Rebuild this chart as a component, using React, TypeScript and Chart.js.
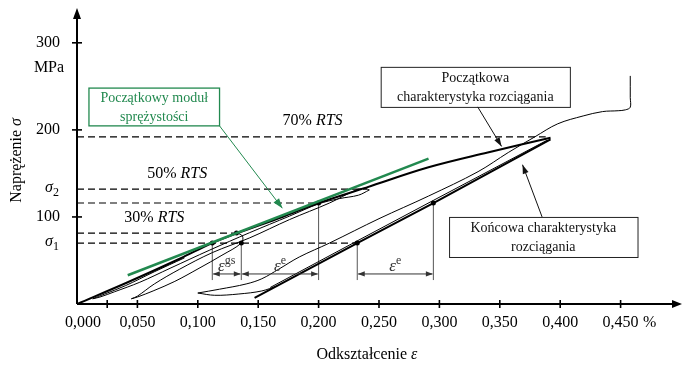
import React, { useEffect, useRef } from "react";
import { Chart, registerables } from "chart.js";

Chart.register(...registerables);

type P = [number, number];

// Axis ranges (strain in %, stress in MPa)
const strainMax = 0.5;
const stressMax = 340;

// Curves: [strain %, stress MPa]
const envelopeCurve: P[] = [[0, 0], [0.042, 25], [0.085, 52], [0.112, 70], [0.132, 81], [0.170, 100], [0.200, 116], [0.240, 134], [0.291, 157], [0.340, 174], [0.392, 191]];
const finalCurve: P[] = [[0.147, 7], [0.232, 70], [0.295, 116], [0.392, 189]];
const finalCurve2: P[] = [[0.160, 19], [0.232, 72.5], [0.295, 119], [0.389, 188]];
const unload30: P[] = [[0.132, 82], [0.137, 78], [0.136, 70], [0.120, 56], [0.101, 41], [0.081, 26], [0.063, 15], [0.050, 8], [0.045, 6]];
const reload50: P[] = [[0.045, 6], [0.050, 9], [0.064, 23], [0.085, 40], [0.112, 59], [0.143, 76], [0.176, 97], [0.209, 116], [0.231, 131], [0.238, 133], [0.242, 131]];
const unload50: P[] = [[0.242, 131], [0.233, 125], [0.217, 121], [0.200, 115], [0.176, 101], [0.143, 82], [0.110, 62], [0.077, 41], [0.052, 25], [0.031, 14], [0.019, 8], [0.013, 6]];
const reload70: P[] = [[0.013, 6], [0.023, 11.5], [0.040, 21], [0.064, 37], [0.089, 53]];
const cycleLow: P[] = [[0.100, 12.6], [0.114, 10], [0.134, 11.5], [0.153, 15], [0.166, 21]];
const finalReload: P[] = [[0.100, 12.6], [0.118, 17], [0.140, 23], [0.153, 29], [0.167, 40], [0.184, 54], [0.209, 70], [0.250, 98], [0.291, 124], [0.332, 152], [0.357, 174], [0.379, 192], [0.398, 207], [0.419, 216], [0.435, 221], [0.448, 222], [0.454, 223], [0.458, 226], [0.458, 237], [0.458, 262]];
const modulusLine: P[] = [[0.042, 33], [0.291, 167]];

// Horizontal dashed levels
const dashLevels = [192, 132, 116, 81.5, 70];
const dashEnds = [0.388, 0.240, 0.200, 0.132, 0.232];

// Measurement markers
const markerStrains = [0.112, 0.132, 0.136, 0.200, 0.232, 0.295];
const markerStresses = [70, 81.5, 70, 116, 70, 116];
const verticalStrains = [0.112, 0.136, 0.200, 0.232, 0.295];
const verticalTops = [70, 70, 116, 70, 116];
const dimBase = 27.5;
const dimLevel = 34.5;
const spanStarts = [0.112, 0.136, 0.232];
const spanEnds = [0.136, 0.200, 0.295];
const spanSup = ["gs", "e", "e"];

// Ticks
const xTickMarks = [0.025, 0.05, 0.1, 0.15, 0.2, 0.25, 0.3, 0.35, 0.4, 0.45];
const xLabelValues = [0, 0.05, 0.1, 0.15, 0.2, 0.25, 0.3, 0.35, 0.4, 0.45];
const xLabelTexts = ["0,000", "0,050", "0,100", "0,150", "0,200", "0,250", "0,300", "0,350", "0,400", "0,450"];
const yTickMarks = [100, 200, 300];
const yTickTexts = ["100", "200", "300"];
const sigmaLabelValues = [70, 132];
const sigmaLabelSubs = ["1", "2"];

// RTS labels
const rtsTexts = ["70% ", "50% ", "30% "];
const rtsStrains = [0.195, 0.083, 0.064];
const rtsStresses = [210, 149.4, 98.9];

const GREEN = "#22894f";
const SERIF = '"Liberation Serif", "DejaVu Serif", serif';
const F16 = `16px ${SERIF}`;
const I16 = `italic 16px ${SERIF}`;
const F14 = `14px ${SERIF}`;

type Run = { t: string; f: string; dy?: number };

function drawRuns(ctx: CanvasRenderingContext2D, runs: Run[], cx: number, cy: number, align = "center") {
  let total = 0;
  runs.forEach((r) => { ctx.font = r.f; total += ctx.measureText(r.t).width; });
  let x = align === "center" ? cx - total / 2 : align === "right" ? cx - total : cx;
  ctx.textBaseline = "middle";
  ctx.textAlign = "left";
  runs.forEach((r) => {
    ctx.font = r.f;
    ctx.fillText(r.t, x, cy + (r.dy || 0));
    x += ctx.measureText(r.t).width;
  });
}

function head(ctx: CanvasRenderingContext2D, x1: number, y1: number, x2: number, y2: number, len: number, hw: number) {
  const a = Math.atan2(y2 - y1, x2 - x1);
  const bx = x2 - len * Math.cos(a), by = y2 - len * Math.sin(a);
  const nx = -Math.sin(a) * hw, ny = Math.cos(a) * hw;
  ctx.beginPath();
  ctx.moveTo(x2, y2);
  ctx.lineTo(bx + nx, by + ny);
  ctx.lineTo(bx - nx, by - ny);
  ctx.closePath();
  ctx.fill();
}

function seg(ctx: CanvasRenderingContext2D, x1: number, y1: number, x2: number, y2: number) {
  ctx.beginPath();
  ctx.moveTo(x1, y1);
  ctx.lineTo(x2, y2);
  ctx.stroke();
}

const overlay = {
  id: "overlay",
  afterDraw(chart: any) {
    const ctx: CanvasRenderingContext2D = chart.ctx;
    const xs = chart.scales.x, ys = chart.scales.y;
    const X = (v: number) => xs.getPixelForValue(v);
    const Y = (v: number) => ys.getPixelForValue(v);
    ctx.save();
    ctx.strokeStyle = "#000";
    ctx.fillStyle = "#000";

    // Axes
    const x0 = X(0), y0 = Y(0), xEnd = X(strainMax), yEnd = Y(stressMax);
    ctx.lineWidth = 2;
    seg(ctx, x0, y0, xEnd - 6, y0);
    head(ctx, x0, y0, xEnd + 1, y0, 10, 4);
    seg(ctx, x0, y0, x0, yEnd + 6);
    head(ctx, x0, y0, x0, yEnd, 11, 4);

    ctx.lineWidth = 1.6;
    xTickMarks.forEach((v) => seg(ctx, X(v), y0 - 4, X(v), y0 + 4));
    yTickMarks.forEach((v) => seg(ctx, x0 - 5, Y(v), x0 + 5, Y(v)));

    // Tick labels
    xLabelValues.forEach((v, i) => drawRuns(ctx, [{ t: xLabelTexts[i], f: F16 }], X(v) + (i === 0 ? 6 : 0), y0 + 19));
    drawRuns(ctx, [{ t: "%", f: F16 }], X(0.474), y0 + 19);
    yTickMarks.forEach((v, i) => drawRuns(ctx, [{ t: yTickTexts[i], f: F16 }], x0 - 29, Y(v)));
    drawRuns(ctx, [{ t: "MPa", f: F16 }], x0 - 28, Y(300) + 25);
    sigmaLabelValues.forEach((v, i) =>
      drawRuns(ctx, [{ t: "σ", f: I16 }, { t: sigmaLabelSubs[i], f: `12px ${SERIF}`, dy: 5 }], x0 - 25, Y(v) - 1)
    );

    // Axis titles
    drawRuns(ctx, [{ t: "Odkształcenie ", f: F16 }, { t: "ε", f: I16 }], X(0.24), y0 + 51);
    ctx.save();
    ctx.translate(17, Y(165));
    ctx.rotate(-Math.PI / 2);
    drawRuns(ctx, [{ t: "Naprężenie ", f: F16 }, { t: "σ", f: I16 }], 0, 0);
    ctx.restore();

    // RTS labels
    rtsTexts.forEach((t, i) => drawRuns(ctx, [{ t, f: F16 }, { t: "RTS", f: I16 }], X(rtsStrains[i]), Y(rtsStresses[i])));

    // Dimension arrows
    ctx.strokeStyle = "#333";
    ctx.fillStyle = "#333";
    ctx.lineWidth = 1;
    spanStarts.forEach((a, i) => {
      const b = spanEnds[i];
      const yy = Y(dimLevel);
      seg(ctx, X(a) + 1, yy, X(b) - 1, yy);
      head(ctx, X(b), yy, X(a) + 0.5, yy, 7, 2.6);
      head(ctx, X(a), yy, X(b) - 0.5, yy, 7, 2.6);
      drawRuns(ctx, [{ t: "ε", f: `italic 17px ${SERIF}` }, { t: spanSup[i], f: `12px ${SERIF}`, dy: -6 }], X((a + b) / 2), yy - 7);
    });

    // Green annotation box
    ctx.fillStyle = "#fff";
    ctx.strokeStyle = GREEN;
    ctx.lineWidth = 1.3;
    const gx = X(0.0099), gy = Y(248), gw = X(0.118) - gx, gh = Y(204.6) - gy;
    ctx.fillRect(gx, gy, gw, gh);
    ctx.strokeRect(gx, gy, gw, gh);
    ctx.fillStyle = GREEN;
    drawRuns(ctx, [{ t: "Początkowy moduł", f: F14 }], gx + gw / 2, gy + 10);
    drawRuns(ctx, [{ t: "sprężystości", f: F14 }], gx + gw / 2, gy + 29);
    ctx.lineWidth = 1;
    seg(ctx, X(0.118), Y(204.6), X(0.170), Y(110));
    head(ctx, X(0.118), Y(204.6), X(0.170), Y(110), 10, 3.5);

    // Black boxes
    const box = (a: number, b: number, top: number, bot: number, l1: string, l2: string) => {
      const bx = X(a), by = Y(top), bw = X(b) - bx, bh = Y(bot) - by;
      ctx.fillStyle = "#fff";
      ctx.fillRect(bx, by, bw, bh);
      ctx.strokeStyle = "#222";
      ctx.lineWidth = 1;
      ctx.strokeRect(bx + 0.5, by + 0.5, bw, bh);
      ctx.fillStyle = "#111";
      drawRuns(ctx, [{ t: l1, f: F14 }], bx + bw / 2, by + 11);
      drawRuns(ctx, [{ t: l2, f: F14 }], bx + bw / 2, by + 30);
    };
    box(0.2514, 0.408, 272.4, 226.4, "Początkowa", "charakterystyka rozciągania");
    box(0.308, 0.464, 100, 54, "Końcowa charakterystyka", "rozciągania");
    ctx.strokeStyle = "#111";
    ctx.fillStyle = "#111";
    ctx.lineWidth = 1;
    seg(ctx, X(0.3317), Y(226.4), X(0.3515), Y(181));
    head(ctx, X(0.3317), Y(226.4), X(0.3515), Y(181), 9, 3);
    seg(ctx, X(0.385), Y(100), X(0.3688), Y(160));
    head(ctx, X(0.385), Y(100), X(0.3688), Y(160), 9, 3);

    ctx.restore();
  },
};

const toXY = (pts: P[]) => pts.map(([x, y]) => ({ x, y }));

export default function App() {
  const ref = useRef<HTMLCanvasElement>(null);
  useEffect(() => {
    const canvas = ref.current!;
    const line = (data: P[], width: number, extra: any = {}) => ({
      data: toXY(data),
      showLine: true,
      borderColor: "#000",
      backgroundColor: "#000",
      borderWidth: width,
      pointRadius: 0,
      tension: 0.35,
      fill: false,
      ...extra,
    });
    const datasets: any[] = [
      line(modulusLine, 2.5, { borderColor: GREEN, tension: 0, order: 0 }),
      line(envelopeCurve, 2, { order: 1 }),
      line(finalCurve, 2, { order: 1, tension: 0 }),
      line(finalCurve2, 1, { order: 2, tension: 0 }),
      ...[unload30, reload50, unload50, reload70, cycleLow, finalReload].map((c) => line(c, 1, { order: 2 })),
      ...dashLevels.map((lv, i) => line([[0, lv], [dashEnds[i], lv]], 1.2, { borderDash: [7, 4], tension: 0, order: 3 })),
      ...verticalStrains.map((s, i) => line([[s, dimBase], [s, verticalTops[i]]], 1, { borderColor: "#555", tension: 0, order: 3 })),
      {
        data: markerStrains.map((x, i) => ({ x, y: markerStresses[i] })),
        pointRadius: 2.5,
        pointBackgroundColor: "#000",
        pointBorderWidth: 0,
        showLine: false,
        order: 0,
      },
    ];
    const chart = new Chart(canvas, {
      type: "scatter",
      data: { datasets },
      options: {
        animation: false,
        responsive: false,
        devicePixelRatio: 1,
        events: [],
        layout: { padding: { left: 77, right: 2, top: 8, bottom: 63 } },
        scales: {
          x: { type: "linear", min: 0, max: strainMax, display: false },
          y: { type: "linear", min: 0, max: stressMax, display: false },
        },
        plugins: { legend: { display: false }, tooltip: { enabled: false } },
      },
      plugins: [overlay],
    } as any);
    let alive = true;
    const fonts: any = (document as any).fonts;
    if (fonts && fonts.load) {
      Promise.all([fonts.load(F16), fonts.load(I16), fonts.load(F14)])
        .catch(() => null)
        .then(() => { if (alive) chart.update(); });
    }
    return () => { alive = false; chart.destroy(); };
  }, []);
  return (
    <div style={{ position: "fixed", left: 0, top: 0, width: 685, height: 367, background: "#fff" }}>
      <span style={{ fontFamily: "Liberation Serif", position: "absolute", visibility: "hidden" }}>
        a<i>a</i>
      </span>
      <canvas ref={ref} width={685} height={367} style={{ display: "block" }} />
    </div>
  );
}
